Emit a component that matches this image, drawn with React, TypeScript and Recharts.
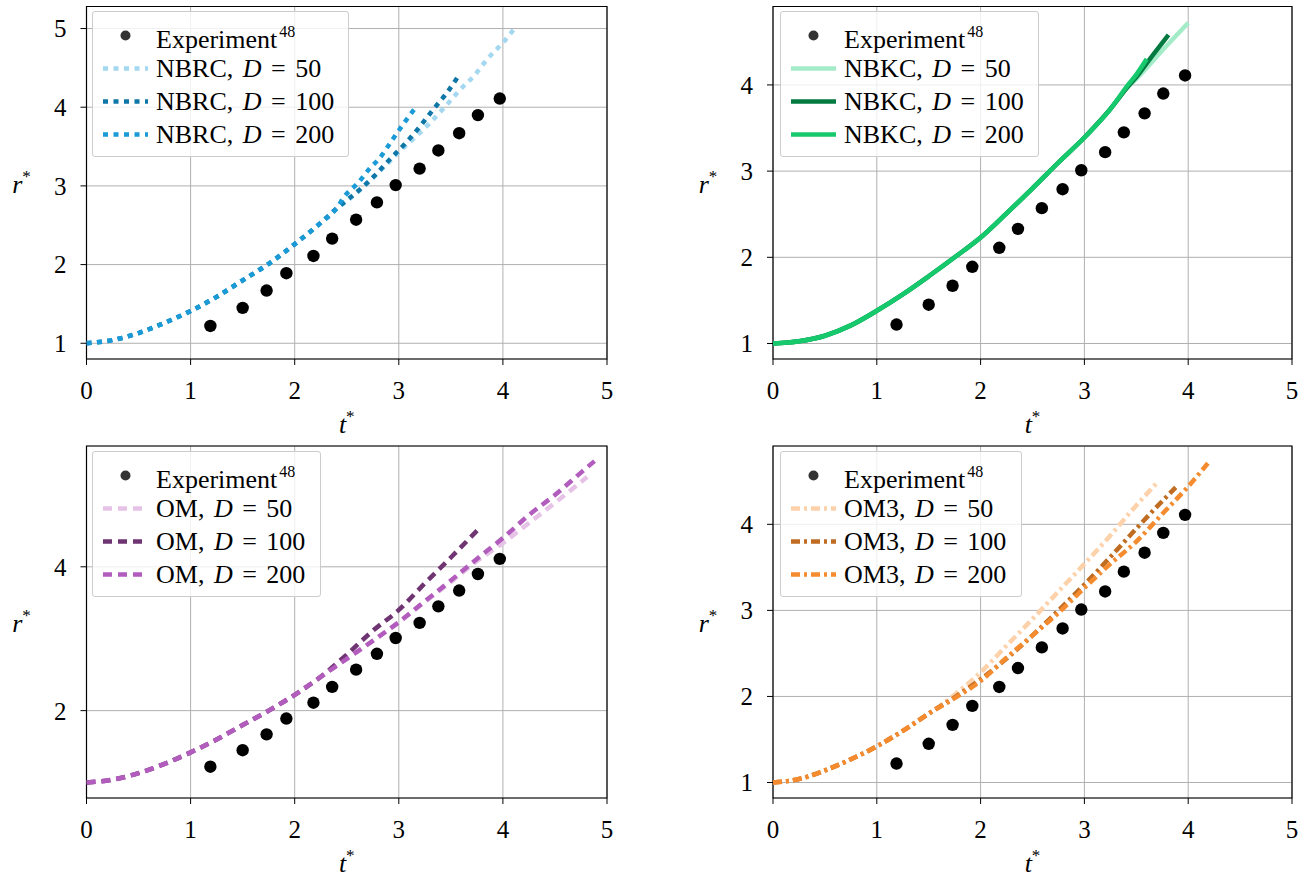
import React from 'react';
import {
  ComposedChart,
  Line,
  Scatter,
  XAxis,
  YAxis,
  CartesianGrid,
  ReferenceArea,
  Legend,
} from 'recharts';

const SERIF = '"Liberation Serif", "Times New Roman", serif';

// experiment (same in all four panels)
const expT = [1.19, 1.5, 1.73, 1.92, 2.18, 2.36, 2.59, 2.79, 2.97, 3.2, 3.38, 3.58, 3.76, 3.97];
const expR = [1.22, 1.45, 1.67, 1.89, 2.11, 2.33, 2.57, 2.79, 3.01, 3.22, 3.45, 3.67, 3.9, 4.11];

const xTicks = [0, 1, 2, 3, 4, 5];
const dLabels = ['50', '100', '200'];

// NBRC
const nbrcBaseT = [0, 0.25, 0.5, 0.75, 1, 1.25, 1.5, 1.75, 2, 2.25, 2.4];
const nbrcBaseR = [1.0, 1.04, 1.13, 1.26, 1.41, 1.59, 1.8, 2.01, 2.26, 2.53, 2.71];
const nbrc50T = [2.56, 2.72, 2.88, 3.01, 3.15, 3.3, 3.44, 3.58, 3.73, 3.85, 4.0, 4.13];
const nbrc50R = [2.87, 3.06, 3.27, 3.44, 3.61, 3.8, 4.0, 4.21, 4.41, 4.61, 4.82, 5.03];
const nbrc100T = [2.64, 2.79, 2.93, 3.07, 3.2, 3.33, 3.46, 3.58];
const nbrc100R = [2.97, 3.16, 3.36, 3.55, 3.75, 3.97, 4.18, 4.41];
const nbrc200T = [2.48, 2.61, 2.72, 2.82, 2.93, 3.04, 3.17];
const nbrc200R = [2.87, 3.04, 3.22, 3.36, 3.57, 3.78, 4.01];

// NBKC
const nbkcBaseT = [0, 0.25, 0.5, 0.75, 1, 1.25, 1.5, 1.75, 2, 2.25, 2.5, 2.75, 3, 3.25];
const nbkcBaseR = [1.0, 1.025, 1.09, 1.21, 1.38, 1.57, 1.78, 2.0, 2.23, 2.51, 2.8, 3.1, 3.39, 3.72];
const nbkc50T = [3.42, 3.5, 3.75, 4.0];
const nbkc50R = [3.98, 4.07, 4.4, 4.72];
const nbkc100T = [3.42, 3.5, 3.65, 3.81];
const nbkc100R = [3.98, 4.09, 4.33, 4.58];
const nbkc200T = [3.42, 3.5, 3.6];
const nbkc200R = [4.0, 4.12, 4.3];

// OM
const omBaseT = [0, 0.25, 0.5, 0.75, 1, 1.25, 1.5, 1.75, 2, 2.25];
const omBaseR = [1.0, 1.04, 1.13, 1.26, 1.42, 1.6, 1.8, 2.0, 2.22, 2.47];
const om50T = [2.5, 2.75, 3.0, 3.25, 3.5, 3.75, 4.0, 4.25, 4.5, 4.81];
const om50R = [2.72, 2.97, 3.23, 3.51, 3.79, 4.08, 4.33, 4.61, 4.89, 5.25];
const om100T = [2.5, 2.75, 3.0, 3.25, 3.5, 3.79];
const om100R = [2.78, 3.11, 3.4, 3.77, 4.13, 4.56];
const om200T = [2.5, 2.75, 3.0, 3.25, 3.5, 3.75, 4.0, 4.25, 4.5, 4.75, 4.88];
const om200R = [2.72, 2.97, 3.23, 3.52, 3.81, 4.11, 4.4, 4.72, 5.0, 5.31, 5.47];

// OM3
const om3BaseT = [0, 0.25, 0.5, 0.75, 1, 1.25, 1.5];
const om3BaseR = [1.0, 1.04, 1.14, 1.27, 1.42, 1.6, 1.8];
const om350T = [1.75, 2.0, 2.25, 2.5, 2.75, 3.0, 3.25, 3.5, 3.69];
const om350R = [2.02, 2.28, 2.59, 2.9, 3.22, 3.54, 3.87, 4.22, 4.47];
const om3100T = [1.75, 2.0, 2.25, 2.5, 2.75, 3.0, 3.25, 3.5, 3.75, 3.88];
const om3100R = [1.99, 2.2, 2.44, 2.71, 3.0, 3.3, 3.62, 3.95, 4.27, 4.43];
const om3200T = [1.75, 2.0, 2.25, 2.5, 2.75, 3.0, 3.25, 3.5, 3.75, 4.0, 4.19];
const om3200R = [1.98, 2.18, 2.45, 2.71, 2.97, 3.26, 3.54, 3.8, 4.12, 4.44, 4.71];

const zip = (t: number[], r: number[]) => t.map((v, i) => ({ t: v, r: r[i] }));
const expData = zip(expT, expR);

type Series = { color: string; dash?: string; data: { t: number; r: number }[] };
type Panel = {
  model: string;
  yDomain: [number, number];
  yTicks: number[];
  series: Series[];
  box: { left: number; top: number; width: number; height: number };
  margin: { top: number; right: number; bottom: number; left: number };
  legend: { left: number; top: number; width: number };
};

const DOT = '5 5.5';
const DASH = '9 6';
const DASHDOT = '9 4 3 4';

const panels: Panel[] = [
  {
    model: 'NBRC',
    yDomain: [0.8, 5.28],
    yTicks: [1, 2, 3, 4, 5],
    series: [
      { color: '#a4d8f0', dash: DOT, data: zip([...nbrcBaseT, ...nbrc50T], [...nbrcBaseR, ...nbrc50R]) },
      { color: '#0e77a8', dash: DOT, data: zip([...nbrcBaseT, ...nbrc100T], [...nbrcBaseR, ...nbrc100R]) },
      { color: '#1a9bd7', dash: DOT, data: zip([...nbrcBaseT, ...nbrc200T], [...nbrcBaseR, ...nbrc200R]) },
    ],
    box: { left: 0, top: 0, width: 650, height: 440 },
    margin: { top: 6.5, right: 43, bottom: 21, left: 26.5 },
    legend: { left: 92, top: 10.7, width: 257 },
  },
  {
    model: 'NBKC',
    yDomain: [0.82, 4.91],
    yTicks: [1, 2, 3, 4],
    series: [
      { color: '#a4ecc8', data: zip([...nbkcBaseT, ...nbkc50T], [...nbkcBaseR, ...nbkc50R]) },
      { color: '#027a40', data: zip([...nbkcBaseT, ...nbkc100T], [...nbkcBaseR, ...nbkc100R]) },
      { color: '#16c96c', data: zip([...nbkcBaseT, ...nbkc200T], [...nbkcBaseR, ...nbkc200R]) },
    ],
    box: { left: 650, top: 0, width: 663, height: 440 },
    margin: { top: 6.5, right: 21, bottom: 21, left: 63 },
    legend: { left: 130, top: 11, width: 259 },
  },
  {
    model: 'OM',
    yDomain: [0.785, 5.68],
    yTicks: [2, 4],
    series: [
      { color: '#e6c3e6', dash: DASH, data: zip([...omBaseT, ...om50T], [...omBaseR, ...om50R]) },
      { color: '#6f3472', dash: DASH, data: zip([...omBaseT, ...om100T], [...omBaseR, ...om100R]) },
      { color: '#b25dbe', dash: DASH, data: zip([...omBaseT, ...om200T], [...omBaseR, ...om200R]) },
    ],
    box: { left: 0, top: 440, width: 650, height: 441 },
    margin: { top: 6, right: 43, bottom: 23, left: 26.5 },
    legend: { left: 92, top: 10.7, width: 229 },
  },
  {
    model: 'OM3',
    yDomain: [0.82, 4.91],
    yTicks: [1, 2, 3, 4],
    series: [
      { color: '#fdd1aa', dash: DASHDOT, data: zip([...om3BaseT, ...om350T], [...om3BaseR, ...om350R]) },
      { color: '#c06c22', dash: DASHDOT, data: zip([...om3BaseT, ...om3100T], [...om3BaseR, ...om3100R]) },
      { color: '#f48b2e', dash: DASHDOT, data: zip([...om3BaseT, ...om3200T], [...om3BaseR, ...om3200R]) },
    ],
    box: { left: 650, top: 440, width: 663, height: 441 },
    margin: { top: 6, right: 21, bottom: 23, left: 63 },
    legend: { left: 130, top: 10.7, width: 242 },
  },
];

const yLabel = (props: any) => {
  const vb = props.viewBox || {};
  const x = vb.x + vb.width - 65;
  const y = vb.y + vb.height / 2 + 10;
  return (
    <text x={x} y={y} textAnchor='middle' style={{ fontFamily: SERIF }} fontSize={26} fill='#000'>
      <tspan fontStyle='italic'>r</tspan>
      <tspan fontSize={17} dy={-11}>*</tspan>
    </text>
  );
};

const xLabel = (props: any) => {
  const vb = props.viewBox || {};
  const x = vb.x + vb.width / 2;
  const y = vb.y + 74;
  return (
    <text x={x} y={y} textAnchor='middle' style={{ fontFamily: SERIF }} fontSize={26} fill='#000'>
      <tspan fontStyle='italic'>t</tspan>
      <tspan fontSize={17} dy={-11}>*</tspan>
    </text>
  );
};

function LegendBox({ panel }: { panel: Panel }) {
  const row = { display: 'flex', alignItems: 'center', height: 33 } as const;
  return (
    <div
      style={{
        boxSizing: 'border-box',
        width: panel.legend.width,
        background: 'rgba(255,255,255,0.8)',
        border: '1px solid #cccccc',
        borderRadius: 3,
        padding: '7px 8px 5px 10px',
        fontFamily: SERIF,
        fontSize: 26,
        color: '#000',
        lineHeight: '33px',
        textAlign: 'left',
      }}
    >
      <div style={row}>
        <svg width={45} height={33}>
          <circle cx={22.5} cy={16.5} r={5} fill='#333' />
        </svg>
        <span style={{ marginLeft: 8, whiteSpace: 'nowrap' }}>
          Experiment
          <span style={{ fontSize: 16, verticalAlign: '11px', marginLeft: 2 }}>48</span>
        </span>
      </div>
      {panel.series.map((s, i) => (
        <div key={i} style={row}>
          <svg width={45} height={33}>
            <line
              x1={0}
              x2={45}
              y1={16.5}
              y2={16.5}
              stroke={s.color}
              strokeWidth={4.5}
              strokeDasharray={s.dash}
            />
          </svg>
          <span style={{ marginLeft: 8, whiteSpace: 'pre', wordSpacing: 3 }}>
            {panel.model + ', '}
            <i>D</i>
            {' = ' + dLabels[i]}
          </span>
        </div>
      ))}
    </div>
  );
}

function PanelChart({ panel }: { panel: Panel }) {
  const tickStyle = { fontFamily: SERIF, fontSize: 25, fill: '#000' };
  return (
    <div style={{ position: 'absolute', left: panel.box.left, top: panel.box.top, fontFamily: SERIF }}>
      <ComposedChart
        width={panel.box.width}
        height={panel.box.height}
        margin={panel.margin}
        style={{ fontFamily: SERIF }}
      >
        <CartesianGrid stroke='#b0b0b0' strokeWidth={1} />
        <XAxis
          type='number'
          dataKey='t'
          domain={[0, 5]}
          ticks={xTicks}
          allowDataOverflow
          height={60}
          axisLine={false}
          tickLine={{ stroke: '#000', strokeWidth: 1 }}
          tickSize={6}
          tickMargin={16}
          tick={tickStyle}
          label={xLabel}
        />
        <YAxis
          type='number'
          dataKey='r'
          domain={panel.yDomain}
          ticks={panel.yTicks}
          allowDataOverflow
          width={60}
          axisLine={false}
          tickLine={{ stroke: '#000', strokeWidth: 1 }}
          tickSize={6}
          tickMargin={14}
          tick={tickStyle}
          label={yLabel}
        />
        {panel.series.map((s, i) => (
          <Line
            key={i}
            data={s.data}
            dataKey='r'
            type='monotone'
            stroke={s.color}
            strokeWidth={4.5}
            strokeDasharray={s.dash}
            strokeLinecap='butt'
            dot={false}
            activeDot={false}
            isAnimationActive={false}
          />
        ))}
        <Scatter
          data={expData}
          dataKey='r'
          isAnimationActive={false}
          shape={(p: any) => <circle cx={p.cx} cy={p.cy} r={6.2} fill='#000' />}
        />
        <ReferenceArea
          x1={0}
          x2={5}
          y1={panel.yDomain[0]}
          y2={panel.yDomain[1]}
          fill='none'
          fillOpacity={0}
          stroke='#000'
          strokeWidth={1.2}
          ifOverflow='visible'
        />
        <Legend
          layout='vertical'
          align='center'
          verticalAlign='middle'
          wrapperStyle={{ left: panel.legend.left, top: panel.legend.top, width: 'auto' }}
          content={() => <LegendBox panel={panel} />}
        />
      </ComposedChart>
    </div>
  );
}

export default function App() {
  return (
    <div
      style={{
        position: 'absolute',
        left: 0,
        top: 0,
        width: 1313,
        height: 881,
        background: '#fff',
        fontFamily: SERIF,
      }}
    >
      {panels.map((p, i) => (
        <PanelChart key={i} panel={p} />
      ))}
    </div>
  );
}
